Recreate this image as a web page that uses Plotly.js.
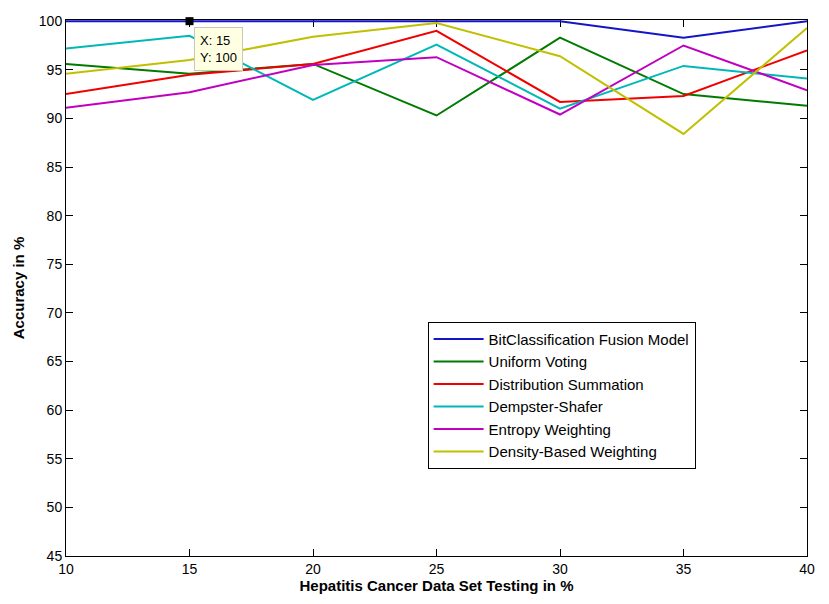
<!DOCTYPE html>
<html>
<head>
<meta charset="utf-8">
<script src="https://cdn.plot.ly/plotly-3.0.1.min.js"></script>
<style>
  html, body { margin: 0; padding: 0; background: #fff; }
  #chart { width: 829px; height: 604px; }
</style>
</head>
<body>
<div id="chart"></div>
<script>
const testing = [10, 15, 20, 25, 30, 35, 40];

const bitFusion = [100, 100, 100, 100, 100, 98.3, 100];
const uniformVoting = [95.6, 94.6, 95.6, 90.3, 98.3, 92.5, 91.3];
const distSummation = [92.5, 94.5, 95.6, 99.0, 91.7, 92.3, 97.0];
const dempsterShafer = [97.2, 98.5, 91.9, 97.6, 91.0, 95.4, 94.1];
const entropyWeighting = [91.1, 92.7, 95.5, 96.3, 90.4, 97.5, 92.9];
const densityWeighting = [94.6, 96.0, 98.4, 99.8, 96.4, 88.4, 99.3];

const seriesNames = [
  'BitClassification Fusion Model',
  'Uniform Voting',
  'Distribution Summation',
  'Dempster-Shafer',
  'Entropy Weighting',
  'Density-Based Weighting'
];
const seriesValues = [bitFusion, uniformVoting, distSummation, dempsterShafer, entropyWeighting, densityWeighting];
const seriesColors = ['#1414c8', '#007a00', '#f00000', '#00b8b8', '#c000c0', '#c0c000'];

const yTicks = [45, 50, 55, 60, 65, 70, 75, 80, 85, 90, 95, 100];
const xTicks = [10, 15, 20, 25, 30, 35, 40];

// data tip shown on the figure
const tipX = [15];
const tipY = [100];

const fontFam = '"Liberation Sans Narrow", "Liberation Sans", Arial, sans-serif';

const data = seriesNames.map((name, i) => ({
  x: testing,
  y: seriesValues[i],
  name: name,
  type: 'scatter',
  mode: 'lines',
  line: { color: seriesColors[i], width: 2 },
  cliponaxis: false
}));

data.push({
  x: tipX,
  y: tipY,
  type: 'scatter',
  mode: 'markers',
  marker: { symbol: 'square', size: 8, color: '#000' },
  showlegend: false,
  cliponaxis: false
});

const layout = {
  width: 829,
  height: 604,
  margin: { l: 66, r: 22, t: 20, b: 48 },
  paper_bgcolor: '#fff',
  plot_bgcolor: '#fff',
  showlegend: true,
  legend: {
    x: 0.488, y: 0.437, xanchor: 'left', yanchor: 'top',
    bgcolor: '#fff',
    bordercolor: '#000',
    borderwidth: 1,
    font: { family: 'Arial, "Liberation Sans", sans-serif', size: 15, color: '#000' },
    tracegroupgap: 0,
    itemwidth: 50
  },
  xaxis: {
    range: [10, 40],
    tickvals: xTicks,
    ticks: 'inside',
    ticklen: 7,
    tickcolor: '#000',
    showgrid: false,
    zeroline: false,
    showline: true,
    linecolor: '#000',
    linewidth: 1,
    mirror: 'ticks',
    layer: 'below traces',
    tickfont: { family: fontFam, size: 14, color: '#000' },
    title: {
      text: 'Hepatitis Cancer Data Set Testing in %',
      font: { family: fontFam, size: 15, color: '#000', weight: 'bold' },
      standoff: 4
    }
  },
  yaxis: {
    range: [45, 100.12],
    tickvals: yTicks,
    ticks: 'inside',
    ticklen: 7,
    tickcolor: '#000',
    showgrid: false,
    zeroline: false,
    showline: true,
    linecolor: '#000',
    linewidth: 1,
    mirror: 'ticks',
    layer: 'below traces',
    tickfont: { family: fontFam, size: 14, color: '#000' },
    title: {
      text: 'Accuracy in %',
      font: { family: fontFam, size: 15, color: '#000', weight: 'bold' },
      standoff: 10
    }
  },
  annotations: [{
    x: tipX[0], y: tipY[0], xref: 'x', yref: 'y',
    text: 'X: 15<br>Y: 100',
    showarrow: false,
    xanchor: 'left', yanchor: 'top',
    xshift: 4, yshift: -6,
    align: 'left',
    bgcolor: '#ffffe1',
    bordercolor: '#c8c8b4',
    borderwidth: 1,
    borderpad: 5,
    font: { family: 'Arial, "Liberation Sans", sans-serif', size: 13, color: '#000' }
  }]
};

Plotly.newPlot('chart', data, layout, { displayModeBar: false, staticPlot: true });
</script>
</body>
</html>
